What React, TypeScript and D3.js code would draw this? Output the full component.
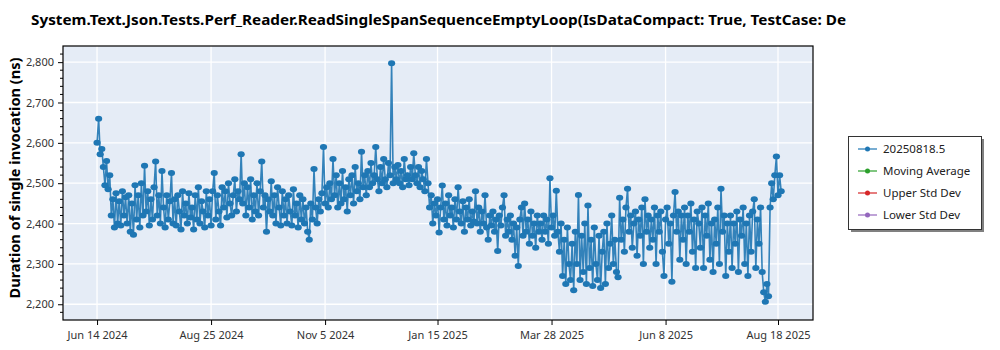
import React, { useEffect, useRef } from "react";
import * as d3 from "d3";

const TITLE = "System.Text.Json.Tests.Perf_Reader.ReadSingleSpanSequenceEmptyLoop(IsDataCompact: True, TestCase: De";
const Y_LABEL = "Duration of single invocation (ns)";
const START_DATE = "2024-06-14";
const X_TICKS = ["2024-06-14", "2024-08-25", "2024-11-05", "2025-01-15", "2025-03-28", "2025-06-08", "2025-08-18"];
const X_TICK_LABELS = ["Jun 14 2024", "Aug 25 2024", "Nov 5 2024", "Jan 15 2025", "Mar 28 2025", "Jun 8 2025", "Aug 18 2025"];
const Y_TICKS = [2200, 2300, 2400, 2500, 2600, 2700, 2800];
const LEGEND_LABELS = ["20250818.5", "Moving Average", "Upper Std Dev", "Lower Std Dev"];
const LEGEND_COLORS = ["#1f77b4", "#2ca02c", "#d62728", "#9467bd"];

// one value per day starting at START_DATE
const VALUES = [
  2600, 2660, 2572, 2585, 2540, 2495, 2555, 2485, 2520, 2420,
  2460, 2390, 2475, 2400, 2455, 2395, 2480, 2420, 2465, 2400,
  2470, 2380, 2450, 2372, 2495, 2410, 2470, 2390, 2500, 2420,
  2543, 2430, 2480, 2395, 2460, 2410, 2490, 2554, 2420, 2470,
  2400, 2530, 2440, 2390, 2470, 2410, 2455, 2525, 2400, 2460,
  2395, 2470, 2430, 2385, 2480, 2420, 2450, 2400, 2475, 2415,
  2440, 2385, 2470, 2410, 2490, 2400, 2455, 2430, 2390, 2480,
  2420, 2460, 2395, 2480, 2525, 2410, 2470, 2430, 2395, 2490,
  2440, 2480, 2415, 2500, 2450, 2420, 2470, 2510, 2430, 2480,
  2460, 2572, 2450, 2500, 2420, 2490, 2440, 2510, 2410, 2470,
  2430, 2500, 2420, 2480, 2554, 2440, 2470, 2380, 2460, 2430,
  2505, 2420, 2470, 2400, 2490, 2440, 2395, 2480, 2420, 2460,
  2400, 2470, 2430, 2395, 2485, 2420, 2450, 2390, 2470, 2410,
  2460, 2400, 2440, 2380, 2360, 2450, 2410, 2535, 2440, 2400,
  2460, 2430, 2475, 2590, 2450, 2490, 2440, 2500, 2460, 2560,
  2470, 2520, 2440, 2500, 2450, 2530, 2460, 2490, 2430, 2510,
  2470, 2520, 2450, 2540, 2480, 2500, 2460, 2578, 2490, 2520,
  2470, 2530, 2490, 2550, 2500, 2520, 2590, 2510, 2480, 2540,
  2500, 2560, 2510, 2490, 2550, 2520, 2797, 2500, 2540, 2510,
  2545, 2500, 2530, 2490, 2560, 2510, 2520, 2495, 2540, 2510,
  2574, 2520, 2500, 2540, 2490, 2530, 2510, 2480, 2560, 2500,
  2440, 2470, 2400, 2450, 2420, 2460, 2378, 2440, 2494, 2410,
  2450, 2395, 2470, 2420, 2440, 2390, 2460, 2410, 2490, 2430,
  2400, 2455, 2380, 2440, 2410, 2460, 2395, 2430, 2405, 2480,
  2400, 2440, 2380, 2430, 2400, 2470, 2390, 2360, 2420, 2395,
  2430, 2380, 2410, 2332, 2420, 2395, 2440, 2470, 2370, 2410,
  2380, 2420, 2360, 2400, 2320, 2390, 2295, 2410, 2440, 2370,
  2450, 2380, 2410, 2350, 2430, 2370, 2400, 2340, 2420, 2380,
  2400, 2360, 2420, 2380, 2410, 2350, 2512, 2390, 2420, 2370,
  2481, 2380, 2330, 2400, 2270, 2360, 2250, 2390, 2300, 2260,
  2350, 2235, 2380, 2300, 2471, 2260, 2370, 2280, 2400, 2250,
  2445, 2290, 2360, 2245, 2390, 2300, 2260, 2370, 2240, 2330,
  2380, 2250, 2400, 2290, 2350, 2420, 2300, 2360, 2280, 2267,
  2464, 2360, 2410, 2330, 2440, 2486, 2380, 2420, 2340, 2400,
  2430, 2320, 2410, 2370, 2440, 2300, 2460, 2380, 2420, 2340,
  2410, 2360, 2440, 2300, 2420, 2380, 2430, 2330, 2270, 2410,
  2440, 2350, 2400, 2256, 2420, 2478, 2380, 2430, 2310, 2420,
  2360, 2440, 2300, 2420, 2380, 2450, 2330, 2410, 2290, 2430,
  2400, 2340, 2440, 2290, 2420, 2370, 2450, 2310, 2400, 2280,
  2410, 2350, 2440, 2300, 2486, 2380, 2420, 2270, 2400, 2330,
  2420, 2290, 2400, 2350, 2430, 2280, 2410, 2370, 2440, 2300,
  2400, 2270, 2420, 2330, 2430, 2460, 2290, 2410, 2350, 2440,
  2280, 2230, 2206, 2250, 2220, 2440, 2500, 2460, 2520, 2566,
  2470, 2520, 2480,
];

const W = 1000;
const H = 350;
const PLOT = { left: 63, right: 813, top: 46, bottom: 320 };
const FONT = "'Segoe UI', 'Noto Sans', 'Open Sans', sans-serif";

const parse = (s: string) => {
  const [y, m, d] = s.split("-").map(Number);
  return new Date(Date.UTC(y, m - 1, d));
};
const DAY = 86400000;

export default function App() {
  const ref = useRef<SVGSVGElement>(null);

  useEffect(() => {
    const svg = d3.select(ref.current);
    svg.selectAll("*").remove();

    const start = parse(START_DATE).getTime();
    const data = VALUES.map((v, i) => ({ date: new Date(start + i * DAY), value: v }));

    const x = d3
      .scaleUtc()
      .domain([new Date(start - 21.5 * DAY), new Date(parse("2025-08-18").getTime() + 22.1 * DAY)])
      .range([PLOT.left, PLOT.right]);
    const y = d3.scaleLinear().domain([2161, 2840]).range([PLOT.bottom, PLOT.top]);

    svg.append("rect").attr("width", W).attr("height", H).attr("fill", "#ffffff");

    // title
    svg
      .append("text")
      .attr("x", 31)
      .attr("y", 25)
      .attr("font-family", FONT)
      .attr("font-weight", "bold")
      .attr("font-size", 15)
      .attr("fill", "#000")
      .attr("textLength", 815)
      .attr("lengthAdjust", "spacingAndGlyphs")
      .text(TITLE);

    // plot background
    svg
      .append("rect")
      .attr("x", PLOT.left)
      .attr("y", PLOT.top)
      .attr("width", PLOT.right - PLOT.left)
      .attr("height", PLOT.bottom - PLOT.top)
      .attr("fill", "#e5ecf6");

    const xTicks = X_TICKS.map(parse);

    // grid
    const grid = svg.append("g");
    grid
      .selectAll("line.v")
      .data(xTicks)
      .join("line")
      .attr("x1", (d) => x(d))
      .attr("x2", (d) => x(d))
      .attr("y1", PLOT.top)
      .attr("y2", PLOT.bottom)
      .attr("stroke", "#ffffff")
      .attr("stroke-width", 1.3);
    grid
      .selectAll("line.h")
      .data(Y_TICKS)
      .join("line")
      .attr("x1", PLOT.left)
      .attr("x2", PLOT.right)
      .attr("y1", (d) => y(d))
      .attr("y2", (d) => y(d))
      .attr("stroke", "#ffffff")
      .attr("stroke-width", 1.3);

    // data
    const clipId = "plotclip";
    svg
      .append("clipPath")
      .attr("id", clipId)
      .append("rect")
      .attr("x", PLOT.left)
      .attr("y", PLOT.top)
      .attr("width", PLOT.right - PLOT.left)
      .attr("height", PLOT.bottom - PLOT.top);

    const g = svg.append("g").attr("clip-path", `url(#${clipId})`);
    const line = d3
      .line<{ date: Date; value: number }>()
      .x((d) => x(d.date))
      .y((d) => y(d.value));
    g.append("path")
      .datum(data)
      .attr("d", line)
      .attr("fill", "none")
      .attr("stroke", "#1f77b4")
      .attr("stroke-width", 1.6)
      .attr("stroke-opacity", 0.9);
    g.selectAll("ellipse")
      .data(data)
      .join("ellipse")
      .attr("cx", (d) => x(d.date))
      .attr("cy", (d) => y(d.value))
      .attr("rx", 3.6)
      .attr("ry", 3)
      .attr("fill", "#1f77b4");

    // frame
    svg
      .append("rect")
      .attr("x", PLOT.left)
      .attr("y", PLOT.top)
      .attr("width", PLOT.right - PLOT.left)
      .attr("height", PLOT.bottom - PLOT.top)
      .attr("fill", "none")
      .attr("stroke", "#000")
      .attr("stroke-width", 1.2);

    // y axis
    const yAxis = d3
      .axisLeft(y)
      .tickValues(Y_TICKS)
      .tickSize(5)
      .tickFormat((d) => d3.format(",")(d as number));
    const ya = svg.append("g").attr("transform", `translate(${PLOT.left},0)`).call(yAxis);
    ya.select(".domain").remove();
    ya.selectAll("text").attr("font-family", FONT).attr("font-size", 11).attr("fill", "#333").attr("dx", "-1");
    ya.selectAll("line").attr("stroke", "#000");
    const minor = d3.range(2180, 2840, 20).filter((v) => v % 100 !== 0);
    svg
      .append("g")
      .selectAll("line")
      .data(minor)
      .join("line")
      .attr("x1", PLOT.left - 3)
      .attr("x2", PLOT.left)
      .attr("y1", (d) => y(d))
      .attr("y2", (d) => y(d))
      .attr("stroke", "#000");

    // x axis
    const xAxis = d3
      .axisBottom(x)
      .tickValues(xTicks)
      .tickSize(5)
      .tickFormat((_d, i) => X_TICK_LABELS[i]);
    const xa = svg.append("g").attr("transform", `translate(0,${PLOT.bottom})`).call(xAxis);
    xa.select(".domain").remove();
    xa.selectAll("text").attr("font-family", FONT).attr("font-size", 11).attr("fill", "#333").attr("dy", "1em");
    xa.selectAll("line").attr("stroke", "#000");

    // y label
    svg
      .append("text")
      .attr("transform", `translate(20,178) rotate(-90)`)
      .attr("text-anchor", "middle")
      .attr("font-family", FONT)
      .attr("font-weight", "bold")
      .attr("font-size", 15)
      .attr("fill", "#000")
      .attr("textLength", 241)
      .attr("lengthAdjust", "spacingAndGlyphs")
      .text(Y_LABEL);

    // legend
    const lg = svg.append("g");
    lg.append("rect")
      .attr("x", 851)
      .attr("y", 139)
      .attr("width", 133)
      .attr("height", 93)
      .attr("fill", "#808080");
    lg.append("rect")
      .attr("x", 848.5)
      .attr("y", 136.5)
      .attr("width", 133)
      .attr("height", 93)
      .attr("fill", "#ffffff")
      .attr("stroke", "#333")
      .attr("stroke-width", 1);
    LEGEND_LABELS.forEach((label, i) => {
      const yy = 149 + i * 22;
      lg.append("line")
        .attr("x1", 858)
        .attr("x2", 877)
        .attr("y1", yy)
        .attr("y2", yy)
        .attr("stroke", LEGEND_COLORS[i])
        .attr("stroke-width", 1.2);
      lg.append("circle").attr("cx", 867.5).attr("cy", yy).attr("r", 2.5).attr("fill", LEGEND_COLORS[i]);
      lg.append("text")
        .attr("x", 883)
        .attr("y", yy + 4)
        .attr("font-family", FONT)
        .attr("font-size", 11.5)
        .attr("fill", "#222")
        .text(label);
    });
  }, []);

  return (
    <svg
      ref={ref}
      width={W}
      height={H}
      style={{ position: "absolute", left: 0, top: 0, display: "block" }}
    />
  );
}
